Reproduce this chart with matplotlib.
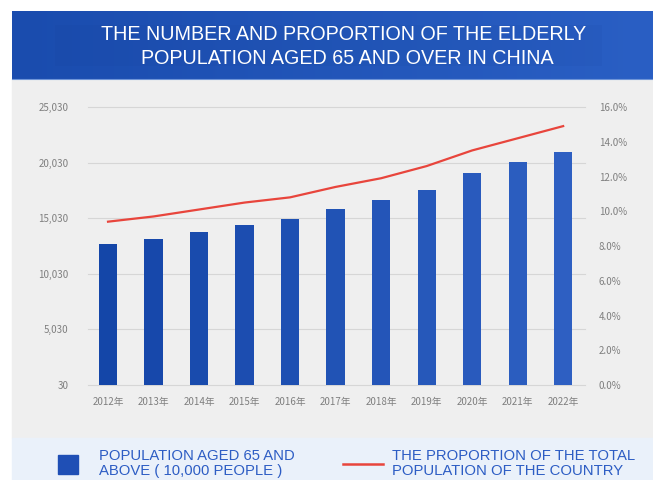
import matplotlib.pyplot as plt
import matplotlib.ticker as ticker
import numpy as np
from matplotlib.patches import Rectangle
from matplotlib.lines import Line2D
from matplotlib.colors import LinearSegmentedColormap

years = ['2012年', '2013年', '2014年', '2015年', '2016年', '2017年',
         '2018年', '2019年', '2020年', '2021年', '2022年']
population = [12714, 13161, 13755, 14386, 15003, 15831, 16658, 17603, 19064, 20056, 20978]
proportion = [9.4, 9.7, 10.1, 10.5, 10.8, 11.4, 11.9, 12.6, 13.5, 14.2, 14.9]
left_ticks = [30, 5030, 10030, 15030, 20030, 25030]
right_ticks = [0, 2, 4, 6, 8, 10, 12, 14, 16]

title_lines = ['THE NUMBER AND PROPORTION OF THE ELDERLY',
               'POPULATION AGED 65 AND OVER IN CHINA']
legend_bar = ['POPULATION AGED 65 AND', 'ABOVE ( 10,000 PEOPLE )']
legend_line = ['THE PROPORTION OF THE TOTAL', 'POPULATION OF THE COUNTRY']

W, H = 653, 480
fig = plt.figure(figsize=(W / 100, H / 100), dpi=100)
fig.patch.set_facecolor('white')

# background in pixel coordinates
bg = fig.add_axes([0, 0, 1, 1])
bg.set_xlim(0, W)
bg.set_ylim(H, 0)
bg.axis('off')
bg.add_patch(Rectangle((12, 79), W - 12, 359, color='#efefef', zorder=0))
bg.add_patch(Rectangle((12, 438), W - 12, H - 438, color='#eaf1fa', zorder=0))
grad = np.linspace(0, 1, 256)[None, :]
cmap_banner = LinearSegmentedColormap.from_list('b', ['#1a4cae', '#2a5fc4'])
bg.imshow(grad, extent=[12, W, 79, 11], aspect='auto', cmap=cmap_banner, zorder=1)
bg.add_patch(Rectangle((55, 25), 547, 41, color='#14408f', alpha=0.08, lw=0, zorder=2))
bg.add_line(Line2D([12, W], [78.5, 78.5], color='#6f95d8', lw=0.8, zorder=2))
bg.text(344, 35, title_lines[0], color='white', fontsize=14.2, family='Liberation Sans',
        ha='center', va='center', zorder=3)
bg.text(347, 59, title_lines[1], color='white', fontsize=14.2, family='Liberation Sans',
        ha='center', va='center', zorder=3)

# legend
bg.add_patch(Rectangle((58, 455), 20, 19, color='#1f4fb5', zorder=3))
bg.text(99, 456, legend_bar[0], color='#2d5dc4', fontsize=10.7, family='Liberation Sans',
        va='center', zorder=3)
bg.text(99, 471, legend_bar[1], color='#2d5dc4', fontsize=10.7, family='Liberation Sans',
        va='center', zorder=3)
bg.add_line(Line2D([343, 383], [464, 464], color='#e8453c', lw=1.8, zorder=3))
bg.text(392, 456, legend_line[0], color='#2d5dc4', fontsize=10.7, family='Liberation Sans',
        va='center', zorder=3)
bg.text(392, 471, legend_line[1], color='#2d5dc4', fontsize=10.7, family='Liberation Sans',
        va='center', zorder=3)

# main chart
ax = fig.add_axes([88 / W, 1 - 385 / H, (585 - 88) / W, (385 - 107) / H])
ax.set_facecolor('none')
x = np.arange(len(years))
bar_colors = [LinearSegmentedColormap.from_list('c', ['#1446a8', '#2e5fc2'])(v)
              for v in np.linspace(0, 1, len(years))]
ax.bar(x, population, width=0.4, color=bar_colors, zorder=2)
ax.set_xlim(-0.44, 10.48)
ax.set_ylim(30, 25030)
ax.set_yticks(left_ticks)
ax.yaxis.set_major_formatter(ticker.FuncFormatter(lambda v, p: f'{int(v):,}'))
ax.set_xticks(x)
ax.set_xticklabels(years)
for gy in left_ticks:
    ax.axhline(gy, color='#d6d6d6', lw=0.8, zorder=1, clip_on=False)

ax2 = ax.twinx()
ax2.plot(x, proportion, color='#e8453c', lw=1.6, zorder=3)
ax2.set_ylim(0, 16)
ax2.set_yticks(right_ticks)
ax2.yaxis.set_major_formatter(ticker.FuncFormatter(lambda v, p: f'{v:.1f}%'))

for a in (ax, ax2):
    for s in a.spines.values():
        s.set_visible(False)
    a.tick_params(length=0, colors='#7f7f7f', labelsize=7)
    for lab in a.get_xticklabels() + a.get_yticklabels():
        lab.set_family(['Noto Sans CJK SC', 'DejaVu Sans'])
ax.tick_params(axis='y', pad=14)
ax.tick_params(axis='x', pad=9)
ax2.tick_params(axis='y', pad=10)

plt.savefig('out.png', dpi=100)
print('done')
